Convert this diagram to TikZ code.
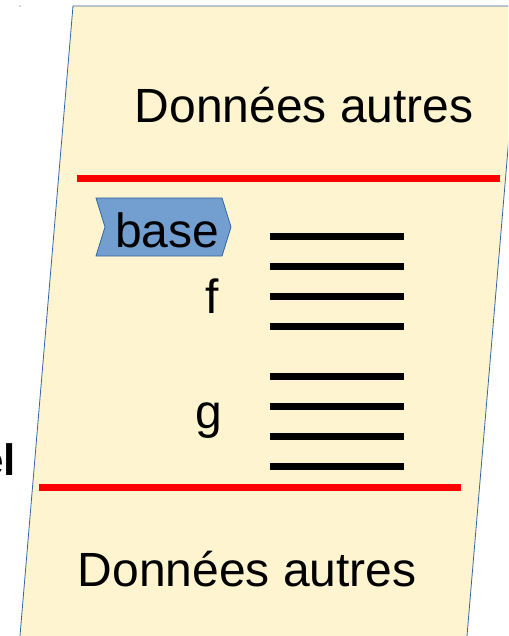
\documentclass[tikz,border=0pt]{standalone}
\usepackage{fontspec}
\setmainfont{Liberation Sans}
\definecolor{paper}{HTML}{FEF4D0}
\definecolor{edgeblue}{HTML}{3465A4}
\definecolor{basefill}{HTML}{729FCF}
\tikzset{
  big/.style={inner sep=0pt, font=\fontsize{48}{56}\selectfont, text=black},
  redline/.style={draw=red, line width=7pt},
  blackline/.style={draw=black, line width=7pt},
}
\begin{document}
\begin{tikzpicture}[x=1pt,y=-1pt]
\useasboundingbox (0,0) rectangle (508,636);
\clip (0,0) rectangle (508,636);
% parallelogram
\draw[fill=paper, draw=edgeblue, line width=0.8pt] (73,6) -- (520,6) -- (461.6,700) -- (14.6,700) -- cycle;
\fill[edgeblue] (20,6) circle (0.7);
% separators
\coordinate (r1a) at (77,179); \coordinate (r1b) at (500,179);
\coordinate (r2a) at (39,487); \coordinate (r2b) at (461,487);
\draw[redline] (r1a) -- (r1b);
\draw[redline] (r2a) -- (r2b);
% texts
\node[big, anchor=base west] (top) at (134.5,123) {Données autres};
\node[big, anchor=base west] (bot) at (77.5,586) {Données autres};
% base tag
\draw[fill=basefill, draw=edgeblue, line width=0.8pt] (96,198) -- (222,198) -- (231,227) -- (222,256) -- (96,256) -- (105,227) -- cycle;
\node[big, anchor=base west] (base) at (115,247) {base};
\node[big, anchor=base west] (f) at (205,313) {f};
\node[big, anchor=base west] (g) at (195,428) {g};
\node[inner sep=0pt, anchor=base east, font=\fontsize{44}{52}\selectfont\bfseries] (el) at (16,475) {el};
% black bars
\foreach \y/\n in {236/a,266/b,296/c,326/d,376/e,406/f,436/g,466/h}{
  \coordinate (L\n) at (270,\y); \coordinate (R\n) at (404,\y);
  \draw[blackline] (L\n) -- (R\n);
}
\end{tikzpicture}
\end{document}
